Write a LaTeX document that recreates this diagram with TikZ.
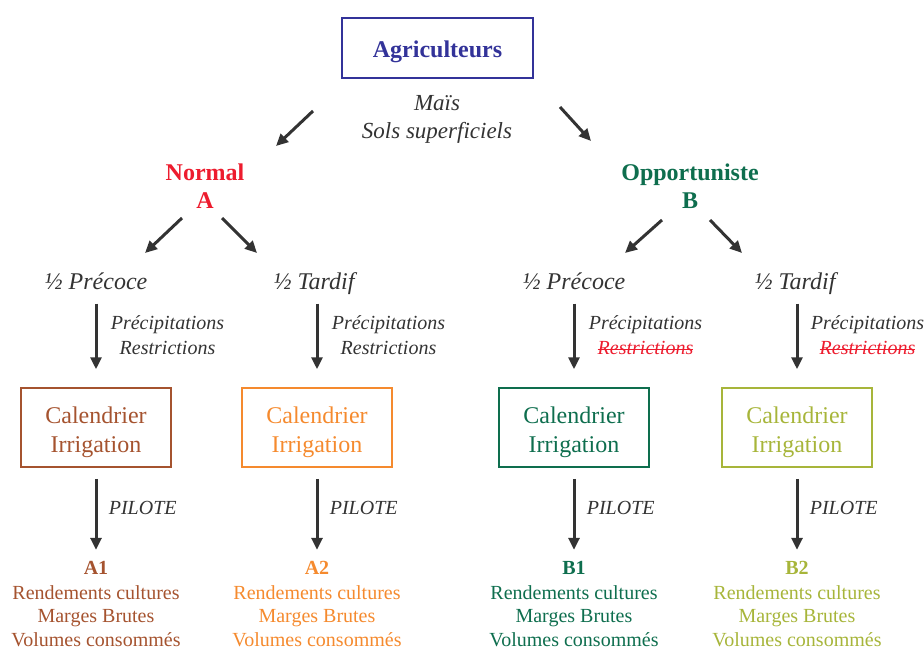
\documentclass[tikz,border=0pt]{standalone}
\usepackage{fontspec}
\setmainfont{Liberation Serif}
\usetikzlibrary{positioning, arrows.meta}
\definecolor{agriblue}{HTML}{333399}
\definecolor{normred}{HTML}{ED1C2E}
\definecolor{oppgreen}{HTML}{0E6E4E}
\definecolor{brownA}{HTML}{A5532F}
\definecolor{orangeA}{HTML}{F58A2E}
\definecolor{oliveB}{HTML}{A7B53A}
\definecolor{txtgray}{HTML}{333333}
\newsavebox\strikebox
\newcommand{\strikeword}[1]{\sbox\strikebox{#1}\rlap{\usebox\strikebox}\rule[0.22em]{\wd\strikebox}{0.06em}}
\tikzset{
    agribox/.style={rectangle, draw=agriblue, line width=1.5pt, minimum width=191pt, minimum height=60pt, text height=20pt, text depth=0pt, text=agriblue, font=\fontsize{24}{28}\selectfont\bfseries},
    strat/.style={align=center, font=\fontsize{24}{28}\selectfont\bfseries},
    note/.style={align=center, text=txtgray, font=\fontsize{23}{28}\selectfont\itshape},
    half/.style={text=txtgray, text height=17pt, text depth=5pt, font=\fontsize{24}{28}\selectfont\itshape},
    cond/.style={align=center, text=txtgray, font=\fontsize{20}{25}\selectfont\itshape},
    calbox/.style={rectangle, draw, line width=1.5pt, minimum width=150pt, minimum height=79pt, text height=50pt, text depth=1pt, align=center, font=\fontsize{24}{29}\selectfont},
    reslabel/.style={text height=14pt, text depth=0pt, inner sep=3pt, font=\fontsize{20}{24}\selectfont\bfseries},
    result/.style={align=center, inner sep=2pt, font=\fontsize{20}{23.5}\selectfont},
    line/.style={-{Triangle[width=11pt,length=12pt]}, line width=3pt, txtgray}
}

\begin{document}
\begin{tikzpicture}[x=1pt, y=-1pt]
        	\useasboundingbox (0,0) rectangle (924,650);
        	% Haut de l'arbre
        	\node (agri) [agribox] at (437.5,48) {Agriculteurs};
        	\node (mais) [note] at (437,119) {Maïs\\Sols superficiels};
        	\node (normal) [strat, text=normred] at (205,186) {Normal\\A};
        	\node (opp) [strat, text=oppgreen] at (690,186) {Opportuniste\\B};
        	
        	\coordinate (agriL0) at (313,111);
        	\coordinate (agriL1) at (276,146);
        	\coordinate (agriR0) at (560,107);
        	\coordinate (agriR1) at (591,141);
        	\coordinate (normL0) at (182,218);
        	\coordinate (normL1) at (145,253);
        	\coordinate (normR0) at (222,218);
        	\coordinate (normR1) at (257,253);
        	\coordinate (oppL0) at (662,220);
        	\coordinate (oppL1) at (625,253);
        	\coordinate (oppR0) at (710,220);
        	\coordinate (oppR1) at (742,253);
        	
        	\node (pA1) [half] at (96,283) {½ Précoce};
        	\node (pA2) [half] at (314,283) {½ Tardif};
        	\node (pB1) [half] at (574,283) {½ Précoce};
        	\node (pB2) [half] at (795,283) {½ Tardif};
        	
        	% Calendriers
        	\node (cal1) [calbox, draw=brownA, text=brownA] at (96,427.5) {Calendrier\\Irrigation};
        	\node (cal2) [calbox, draw=orangeA, text=orangeA] at (317,427.5) {Calendrier\\Irrigation};
        	\node (cal3) [calbox, draw=oppgreen, text=oppgreen] at (574,427.5) {Calendrier\\Irrigation};
        	\node (cal4) [calbox, draw=oliveB, text=oliveB] at (797,427.5) {Calendrier\\Irrigation};
        	
        	% Résultats
        	\node (r1) [reslabel, text=brownA] at (96,567) {A1};
        	\node (r2) [reslabel, text=orangeA] at (317,567) {A2};
        	\node (r3) [reslabel, text=oppgreen] at (574,567) {B1};
        	\node (r4) [reslabel, text=oliveB] at (797,567) {B2};
        	\node (v1) [result, text=brownA, below=6pt of r1] {Rendements cultures\\Marges Brutes\\Volumes consommés};
        	\node (v2) [result, text=orangeA, below=6pt of r2] {Rendements cultures\\Marges Brutes\\Volumes consommés};
        	\node (v3) [result, text=oppgreen, below=6pt of r3] {Rendements cultures\\Marges Brutes\\Volumes consommés};
        	\node (v4) [result, text=oliveB, below=6pt of r4] {Rendements cultures\\Marges Brutes\\Volumes consommés};
        	
        	\draw[line] (agriL0) -- (agriL1);
        	\draw[line] (agriR0) -- (agriR1);
        	\draw[line] (normL0) -- (normL1);
        	\draw[line] (normR0) -- (normR1);
        	\draw[line] (oppL0) -- (oppL1);
        	\draw[line] (oppR0) -- (oppR1);
        	
        	\draw[line, shorten <=6pt, shorten >=18pt] (pA1.south -| cal1) -- node[cond, right=10pt, pos=0.42] {Précipitations\\Restrictions} (cal1.north);
        	\draw[line, shorten <=6pt, shorten >=18pt] (pA2.south -| cal2) -- node[cond, right=10pt, pos=0.42] {Précipitations\\Restrictions} (cal2.north);
        	\draw[line, shorten <=6pt, shorten >=18pt] (pB1.south -| cal3) -- node[cond, right=10pt, pos=0.42] {Précipitations\\\textcolor{normred}{\strikeword{Restrictions}}} (cal3.north);
        	\draw[line, shorten <=6pt, shorten >=18pt] (pB2.south -| cal4) -- node[cond, right=9pt, pos=0.42] {Précipitations\\\textcolor{normred}{\strikeword{Restrictions}}} (cal4.north);
        	
        	\draw[line, shorten <=11pt, shorten >=7pt] (cal1) -- node[cond, right=8pt, pos=0.45] {PILOTE} (r1);
        	\draw[line, shorten <=11pt, shorten >=7pt] (cal2) -- node[cond, right=8pt, pos=0.45] {PILOTE} (r2);
        	\draw[line, shorten <=11pt, shorten >=7pt] (cal3) -- node[cond, right=8pt, pos=0.45] {PILOTE} (r3);
        	\draw[line, shorten <=11pt, shorten >=7pt] (cal4) -- node[cond, right=8pt, pos=0.45] {PILOTE} (r4);
        \end{tikzpicture}
\end{document}
